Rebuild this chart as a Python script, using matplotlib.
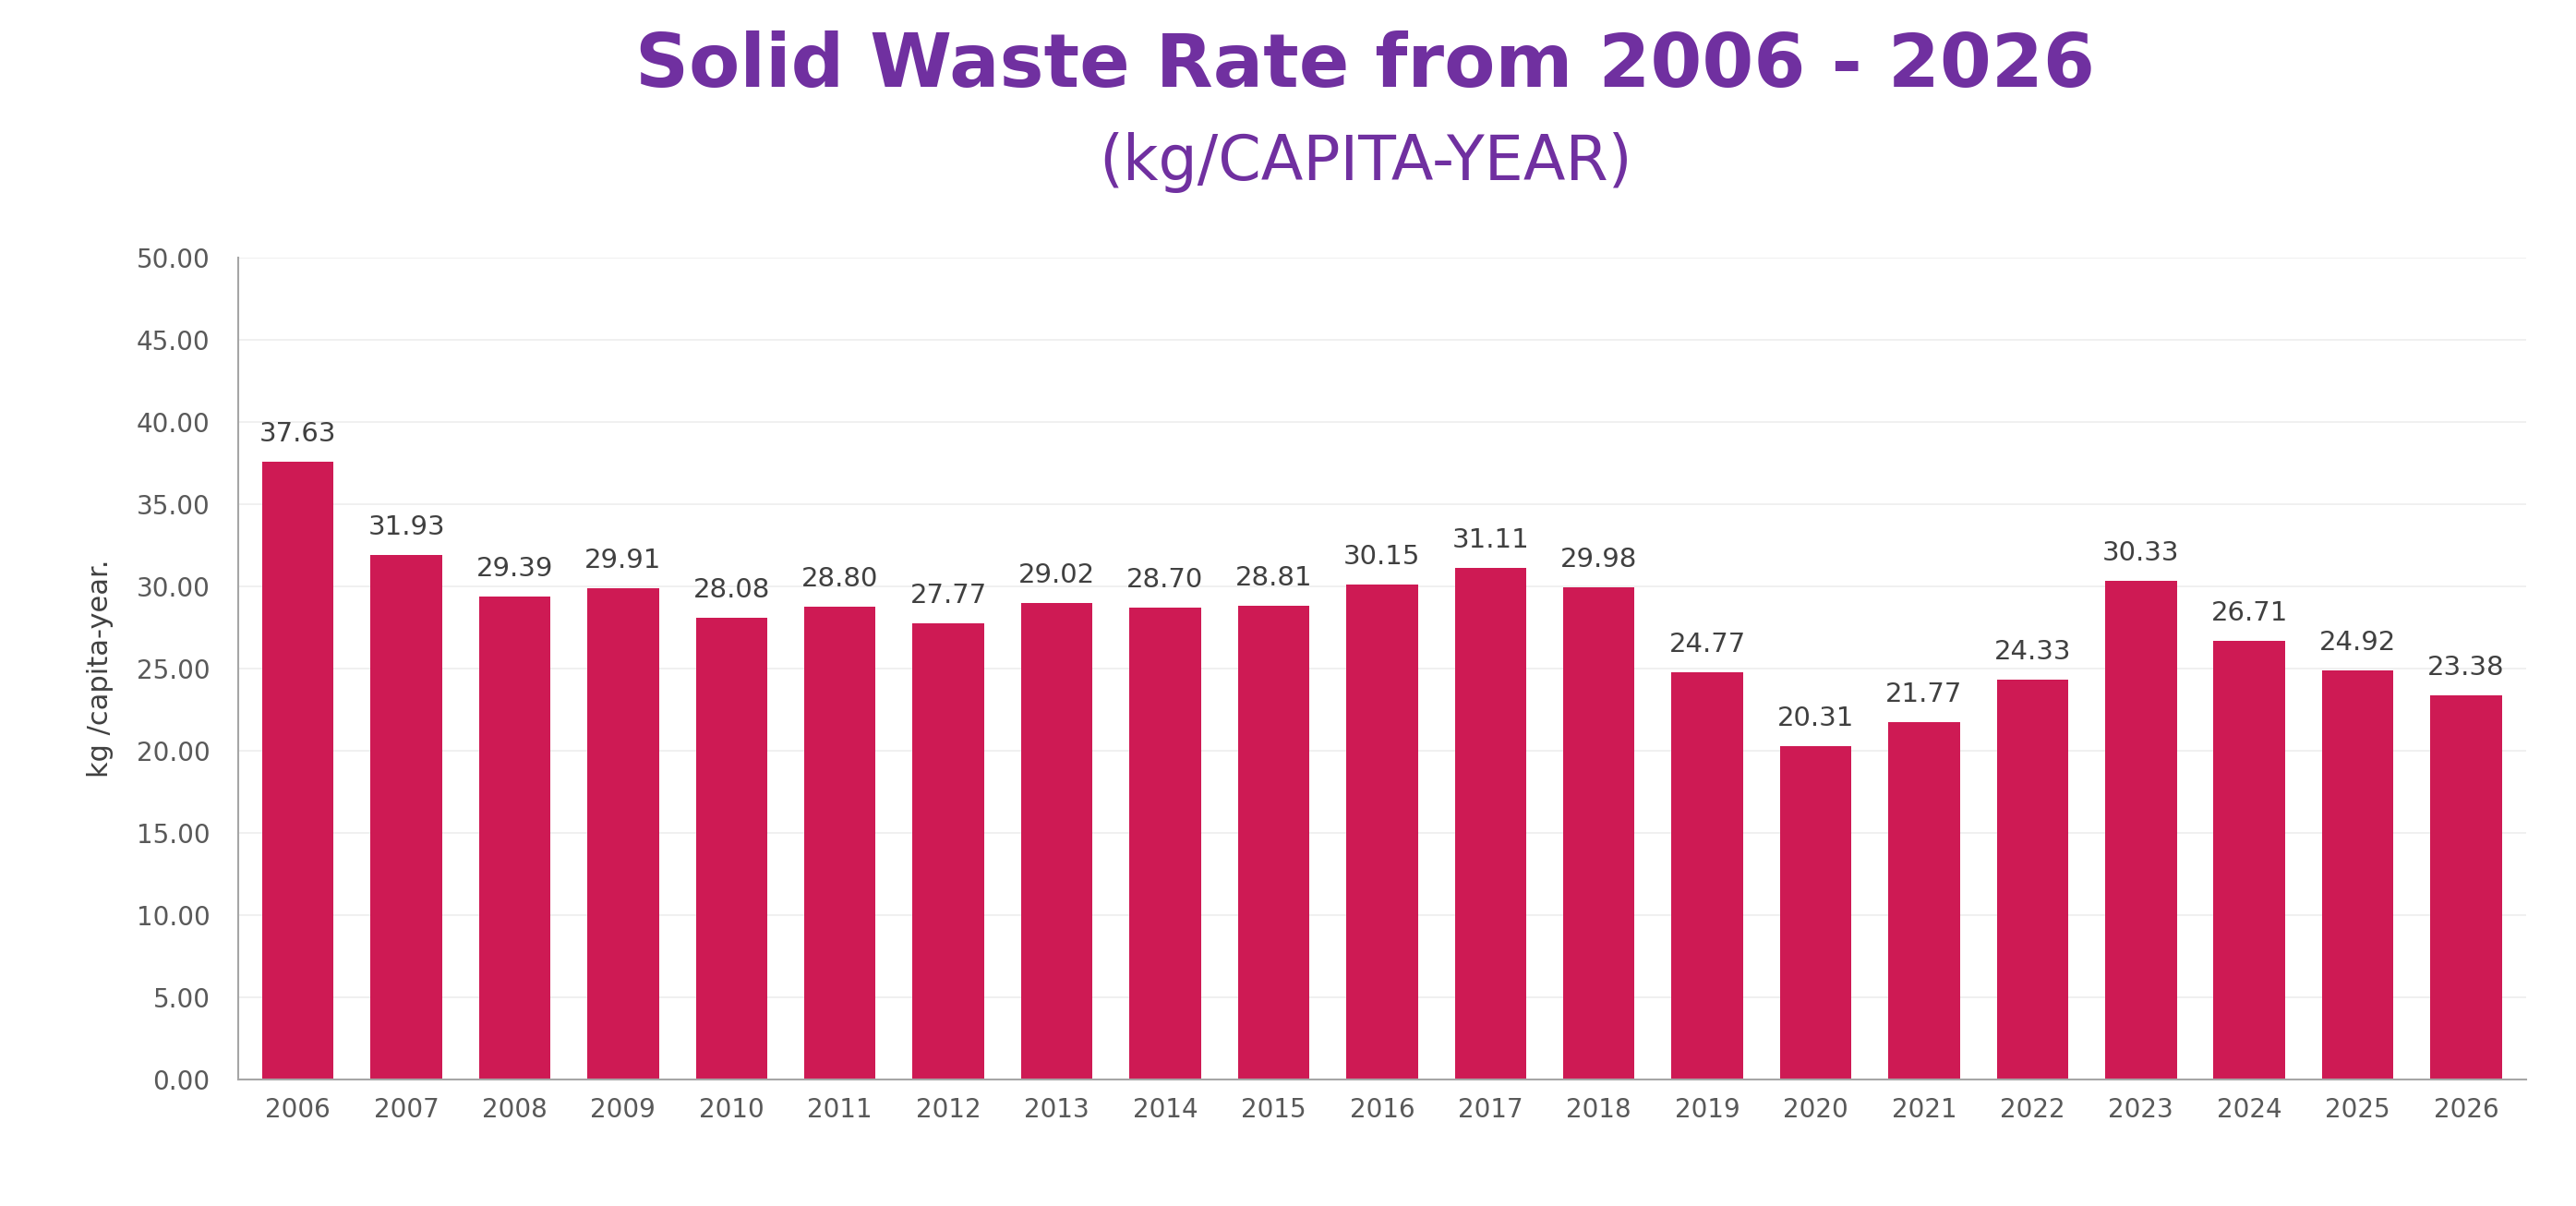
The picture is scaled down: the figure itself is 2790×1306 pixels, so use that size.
import numpy as np
import matplotlib.pyplot as plt

# data
years = [str(y) for y in range(2006, 2027)]
rates = [37.63, 31.93, 29.39, 29.91, 28.08, 28.80, 27.77, 29.02, 28.70, 28.81,
         30.15, 31.11, 29.98, 24.77, 20.31, 21.77, 24.33, 30.33, 26.71, 24.92, 23.38]
yticks = np.arange(0, 50.01, 5)

BAR = "#CE1A54"
PURPLE = "#7030A0"

fig = plt.figure(figsize=(27.9, 13.06), dpi=100)
ax = fig.add_axes([0.0925, 0.105, 0.888, 0.681])

x = np.arange(len(years))
ax.bar(x, rates, width=0.66, color=BAR, zorder=2)
for xi, v in zip(x, rates):
    ax.text(xi, v + 0.9, f"{v:.2f}", ha="center", va="bottom",
            fontsize=21, color="#404040")

ax.set_xlim(-0.55, len(years) - 0.45)
ax.set_ylim(0, 50)
ax.set_yticks(yticks)
ax.set_yticklabels([f"{t:.2f}" for t in yticks])
ax.set_xticks(x)
ax.set_xticklabels(years)
ax.tick_params(axis="both", length=0, labelsize=20, colors="#595959", pad=14)
ax.tick_params(axis="y", pad=22)
ax.grid(axis="y", color="#EEEEEE", lw=1.2, zorder=0)
for s in ["top", "right"]:
    ax.spines[s].set_visible(False)
for s in ["left", "bottom"]:
    ax.spines[s].set_color("#A6A6A6")
    ax.spines[s].set_linewidth(1.5)
ax.set_ylabel("kg /capita-year.", fontsize=22, color="#404040", labelpad=18)

fig.text(0.53, 0.945, "Solid Waste Rate from 2006 - 2026", ha="center", va="center",
         fontsize=58, fontweight="bold", color=PURPLE)
fig.text(0.53, 0.865, "(kg/CAPITA-YEAR)", ha="center", va="center",
         fontsize=48, color=PURPLE)

fig.savefig("out.png", dpi=100)
